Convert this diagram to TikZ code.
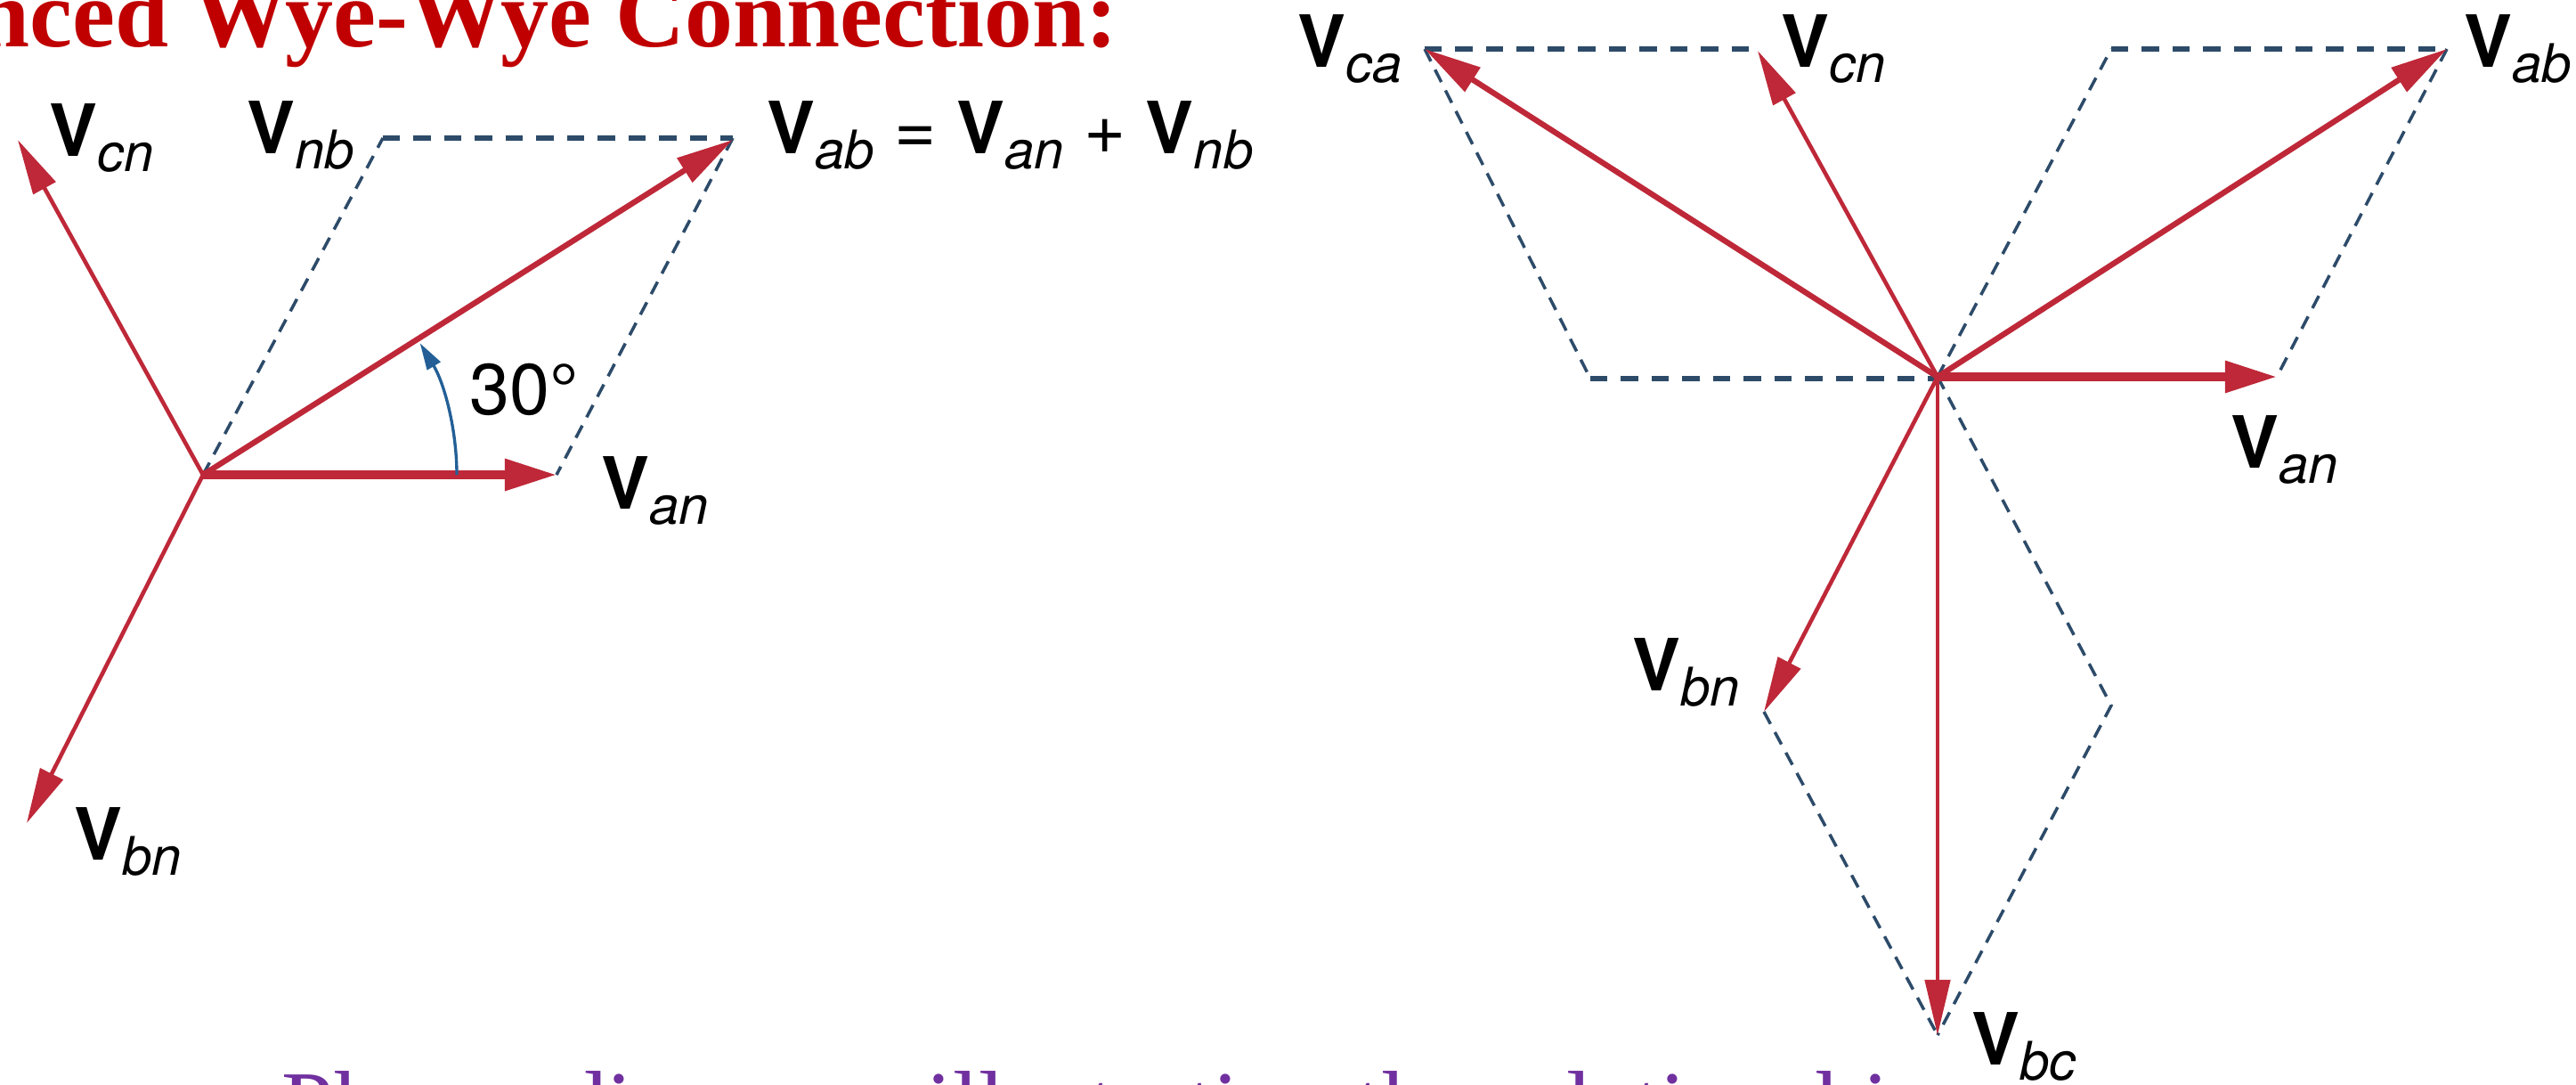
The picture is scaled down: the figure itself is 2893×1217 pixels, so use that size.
\documentclass[tikz,border=0pt]{standalone}
\usepackage{fontspec}
\setmainfont{TeX Gyre Heros}
\newfontfamily\titlefont{Liberation Serif}
\usetikzlibrary{arrows.meta}
\definecolor{phred}{RGB}{190,40,56}
\definecolor{dashblue}{RGB}{45,75,105}
\definecolor{arcblue}{RGB}{35,95,150}
\definecolor{titlered}{RGB}{192,0,0}
\definecolor{capviolet}{RGB}{112,48,160}
\newcommand{\Vlab}[1]{\textbf{V}\raisebox{-5.1pt}{\fontsize{17}{20}\selectfont\itshape #1}}
\begin{document}
\begin{tikzpicture}[x=0.01cm,y=0.01cm,
  phasor/.style={draw=phred, line width=1.3pt, -{Triangle[length=0.62cm,width=0.28cm]}},
  mainphasor/.style={draw=phred, line width=2.6pt, -{Triangle[length=0.58cm,width=0.34cm]}},
  midphasor/.style={draw=phred, line width=1.8pt, -{Triangle[length=0.64cm,width=0.31cm]}},
  dashline/.style={draw=dashblue, line width=1pt, dash pattern=on 4.4pt off 3pt},
  dashtop/.style={draw=dashblue, line width=1.6pt, dash pattern=on 5.5pt off 4.3pt},
  lab/.style={anchor=base west, inner sep=0pt, font=\fontsize{23}{28}\selectfont}]
\useasboundingbox (0,-1217) rectangle (2893,0);
\fill[white] (0,-1217) rectangle (2893,0);
\clip (0,-1217) rectangle (2893,0);

% title and caption (cut by the frame, as in the reference)
\node[anchor=base east, inner sep=0pt, text=titlered,
      font=\titlefont\bfseries\fontsize{30.7}{36}\selectfont] (title) at (1256,-52) {Balanced Wye-Wye Connection:};
\node[anchor=base west, inner sep=0pt, text=capviolet,
      font=\titlefont\fontsize{29.9}{36}\selectfont] (caption) at (316,-1275) {Phasor diagrams illustrating the relationship};

% ---------- left diagram ----------
\coordinate (O1) at (228,-533);
\coordinate (lan) at (625,-533);
\coordinate (lab) at (823,-157);
\coordinate (lcn) at (20,-157);
\coordinate (lbn) at (30,-924);
\coordinate (lnb) at (430,-155);
\coordinate (labc) at (823,-155);
\coordinate (arcS) at (513,-533);

\draw[dashline] (O1) -- (lnb);
\draw[dashline] (labc) -- (lan);
\draw[dashtop] (lnb) -- (labc);

\draw[phasor] (O1) -- (lcn);
\draw[phasor] (O1) -- (lbn);
\draw[midphasor] (O1) -- (lab);
\draw[mainphasor] (O1) -- (lan);
\draw[arcblue, line width=0.95pt, -{Triangle[length=0.3cm,width=0.17cm]}] (arcS) arc[start angle=0, end angle=31.2, radius=2.85cm];

\node[lab] (Lcn) at (55,-175) {\Vlab{cn}};
\node[lab] (Lnb) at (277,-172) {\Vlab{nb}};
\node[lab] (Lab) at (861,-172) {\Vlab{ab} = \Vlab{an} + \Vlab{nb}};
\node[lab] (Lan) at (675,-571) {\Vlab{an}};
\node[lab] (Lbn) at (83,-965) {\Vlab{bn}};
\node[lab] (Ldeg) at (527,-465) {30°};

% ---------- right diagram ----------
\coordinate (O2) at (2176,-423);
\coordinate (ran) at (2557,-423);
\coordinate (rab) at (2748,-55);
\coordinate (rcn) at (1974,-57);
\coordinate (rca) at (1600,-55);
\coordinate (rbn) at (1981,-799);
\coordinate (rbc) at (2176,-1162);
\coordinate (rcnc) at (1971,-55);
\coordinate (rll) at (1786,-425);
\coordinate (rO2l) at (2176,-425);
\coordinate (rnb) at (2371,-55);
\coordinate (rnc) at (2371,-792);

\draw[dashtop] (rca) -- (rcnc);
\draw[dashline] (rca) -- (rll);
\draw[dashtop] (rll) -- (rO2l);
\draw[dashline] (O2) -- (rnb);
\draw[dashtop] (rnb) -- (rab);
\draw[dashline] (rab) -- (ran);
\draw[dashline] (O2) -- (rnc) -- (rbc);
\draw[dashline] (rbn) -- (rbc);

\draw[phasor] (O2) -- (rcn);
\draw[phasor] (O2) -- (rbn);
\draw[phasor] (O2) -- (rbc);
\draw[midphasor] (O2) -- (rca);
\draw[midphasor] (O2) -- (rab);
\draw[mainphasor] (O2) -- (ran);

\node[lab] (Rca) at (1457,-75) {\Vlab{ca}};
\node[lab] (Rcn) at (2000,-75) {\Vlab{cn}};
\node[lab] (Rab) at (2767,-75) {\Vlab{ab}};
\node[lab] (Ran) at (2505,-525) {\Vlab{an}};
\node[lab] (Rbn) at (1833,-775) {\Vlab{bn}};
\node[lab] (Rbc) at (2214,-1195) {\Vlab{bc}};
\end{tikzpicture}
\end{document}
